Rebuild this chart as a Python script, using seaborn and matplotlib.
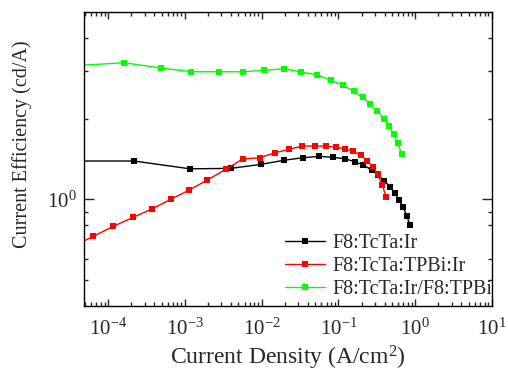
import numpy as np
import pandas as pd
import matplotlib
matplotlib.use("Agg")
import matplotlib.pyplot as plt
import matplotlib.ticker as mticker
import seaborn as sns

# current density (A/cm2) and current efficiency (cd/A)
j_tcta = [4.0e-5, 2.18e-4, 1.17e-3, 3.96e-3, 9.7e-3, 1.98e-2, 3.49e-2, 5.64e-2,
          8.43e-2, 0.122, 0.165, 0.211, 0.271, 0.328, 0.396, 0.47, 0.545,
          0.616, 0.70, 0.78, 0.855]
ce_tcta = [1.39, 1.39, 1.30, 1.305, 1.35, 1.40, 1.43, 1.447, 1.435, 1.417,
           1.381, 1.343, 1.286, 1.232, 1.173, 1.114, 1.053, 0.994, 0.933,
           0.866, 0.802]

j_tpbi = [3.53e-5, 6.44e-5, 1.17e-4, 2.13e-4, 3.77e-4, 6.55e-4, 1.14e-3,
          1.96e-3, 3.41e-3, 5.67e-3, 9.45e-3, 1.49e-2, 2.29e-2, 3.39e-2,
          4.91e-2, 6.89e-2, 9.3e-2, 0.123, 0.155, 0.195, 0.238, 0.28, 0.325,
          0.373, 0.417]
ce_tpbi = [0.668, 0.728, 0.793, 0.857, 0.922, 1.0, 1.083, 1.18, 1.294, 1.414,
           1.43, 1.492, 1.537, 1.581, 1.581, 1.581, 1.563, 1.545, 1.51, 1.463,
           1.393, 1.323, 1.24, 1.131, 1.023]

j_bilayer = [2.37e-5, 1.62e-4, 4.9e-4, 1.22e-3, 2.76e-3, 5.67e-3, 1.08e-2,
             1.96e-2, 3.29e-2, 5.26e-2, 8.0e-2, 0.115, 0.158, 0.207, 0.26,
             0.321, 0.389, 0.456, 0.525, 0.592, 0.667]
ce_bilayer = [3.13, 3.234, 3.09, 2.993, 2.993, 2.993, 3.03, 3.072, 2.985,
              2.917, 2.78, 2.663, 2.529, 2.403, 2.262, 2.136, 1.999, 1.882,
              1.748, 1.618, 1.476]

labels = ["F8:TcTa:Ir", "F8:TcTa:TPBi:Ir", "F8:TcTa:Ir/F8:TPBi"]
colors = ["black", "#ff0000", "#00ff00"]

sns.set_style("ticks")
plt.rcParams["font.family"] = ["Liberation Serif", "DejaVu Serif"]
plt.rcParams["mathtext.fontset"] = "custom"
plt.rcParams["mathtext.rm"] = "Liberation Serif"
plt.rcParams["mathtext.it"] = "Liberation Serif:italic"

fig = plt.figure(figsize=(5.08, 3.72), dpi=100)
ax = fig.add_axes([0.1654, 0.1774, 0.8031, 0.7903])

series = [(j_tcta, ce_tcta), (j_tpbi, ce_tpbi), (j_bilayer, ce_bilayer)]
for (xs, ys), lab, c in zip(series, labels, colors):
    df = pd.DataFrame({"j": xs, "ce": ys})
    sns.lineplot(data=df, x="j", y="ce", ax=ax, color=c, marker="s",
                 markersize=4.6, markeredgewidth=0, linewidth=1.0,
                 label=lab, estimator=None, sort=False)

ax.set_xscale("log")
ax.set_yscale("log")
ax.set_xlim(4.87e-5, 10)
ax.set_ylim(0.4, 5)

ax.xaxis.set_major_locator(mticker.LogLocator(base=10, numticks=10))
ax.xaxis.set_minor_locator(mticker.LogLocator(base=10, subs=np.arange(2, 10), numticks=10))
ax.xaxis.set_major_formatter(mticker.LogFormatterMathtext())
ax.xaxis.set_minor_formatter(mticker.NullFormatter())
ax.yaxis.set_major_locator(mticker.FixedLocator([1.0]))
ax.yaxis.set_major_formatter(mticker.FixedFormatter([r"$10^{0}$"]))
ax.yaxis.set_minor_locator(mticker.FixedLocator([0.5, 0.6, 0.8, 0.9, 2, 3, 4]))
ax.yaxis.set_minor_formatter(mticker.NullFormatter())

ax.tick_params(which="both", direction="in", top=True, right=True, width=1.0,
               labelsize=15)
ax.tick_params(axis="x", which="major", length=5, pad=9)
ax.tick_params(axis="y", which="major", length=7, pad=5)
ax.tick_params(which="minor", length=3)
for s in ax.spines.values():
    s.set_linewidth(1.0)
    s.set_color("black")

ax.set_xlabel(r"Current Density (A/cm$^2$)", fontsize=17, labelpad=3)
ax.set_ylabel("Current Efficiency (cd/A)", fontsize=14.5)
ax.yaxis.set_label_coords(-0.128, 0.55)

ax.legend(loc="lower right", bbox_to_anchor=(1.0, 0.025), frameon=False,
          fontsize=14.5, handlelength=2.0, handletextpad=0.35,
          labelspacing=0.18, borderpad=0, borderaxespad=0)

fig.savefig("out.png", dpi=100)
